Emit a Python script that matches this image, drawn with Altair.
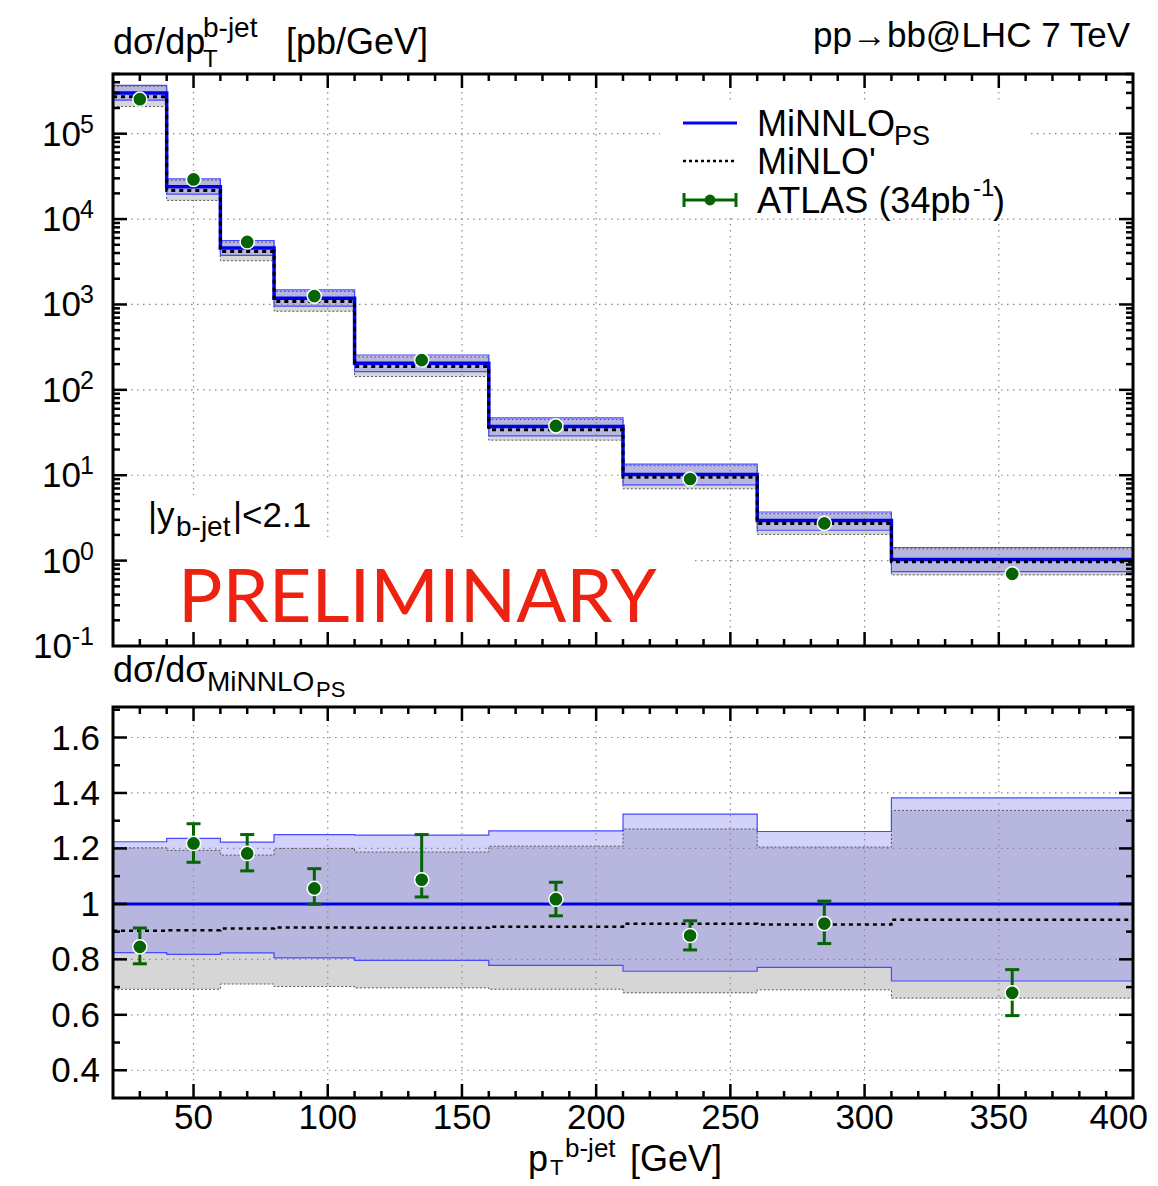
import altair as alt
import numpy as np
import pandas as pd

# ---------------- data ----------------
bin_edges = [20, 40, 60, 80, 110, 160, 210, 260, 310, 400]
minnlo_xsec = [3.0e5, 2.39e4, 4.57e3, 1.186e3, 205.0, 37.2, 10.2, 2.94, 1.03]
minnlo_ratio = [1.0, 1.0, 1.0, 1.0, 1.0, 1.0, 1.0, 1.0, 1.0]
minnlo_ratio_hi = [1.224, 1.236, 1.223, 1.250, 1.248, 1.263, 1.324, 1.261, 1.382]
minnlo_ratio_lo = [0.824, 0.818, 0.823, 0.805, 0.796, 0.778, 0.757, 0.771, 0.722]
minlo_ratio = [0.903, 0.905, 0.911, 0.915, 0.914, 0.918, 0.928, 0.926, 0.943]
minlo_ratio_hi = [1.202, 1.193, 1.176, 1.200, 1.187, 1.208, 1.270, 1.205, 1.337]
minlo_ratio_lo = [0.692, 0.692, 0.711, 0.702, 0.697, 0.692, 0.679, 0.690, 0.660]
atlas_pt = [30, 50, 70, 95, 135, 185, 235, 285, 355]
atlas_ratio = [0.845, 1.218, 1.182, 1.056, 1.087, 1.017, 0.886, 0.929, 0.679]
atlas_ratio_hi = [0.913, 1.289, 1.250, 1.127, 1.250, 1.078, 0.939, 1.010, 0.763]
atlas_ratio_lo = [0.784, 1.150, 1.119, 0.999, 1.025, 0.957, 0.834, 0.857, 0.597]
x_tick_labels = [50, 100, 150, 200, 250, 300, 350, 400]
ratio_tick_values = [0.4, 0.6, 0.8, 1.0, 1.2, 1.4, 1.6]
ratio_tick_labels = ["0.4", "0.6", "0.8", "1", "1.2", "1.4", "1.6"]
log_tick_exponents = [-1, 0, 1, 2, 3, 4, 5]

# ---------------- layout / style ----------------
FONT = "Liberation Sans"
LEFT, UP_TOP, W, UP_H = 113, 74, 1020, 572
LO_TOP, LO_H = 707, 391
GREEN = "#066406"
ONE = pd.DataFrame({"a": [0]})

xs = alt.Scale(domain=[20, 400], nice=False, zero=False)
ys_up = alt.Scale(type="log", domain=[0.1, 5e5], nice=False)
ys_lo = alt.Scale(domain=[0.3, 1.71], nice=False, zero=False)


def X(f):
    return alt.X(f + ":Q", scale=xs, axis=None)


def Y(f, s):
    return alt.Y(f + ":Q", scale=s, axis=None)


def step_frame(cols):
    d = {"x": bin_edges}
    for k, v in cols.items():
        v = list(v)
        d[k] = v + [v[-1]]
    return pd.DataFrame(d)


def T(text, px, py, size, top, align="left", color="black", font=FONT):
    return alt.Chart(ONE).mark_text(
        text=text, align=align, baseline="alphabetic", fontSize=size,
        font=font, color=color
    ).encode(x=alt.value(px - LEFT), y=alt.value(py - top))


def white_box(x0, x1, y0, y1, top):
    return alt.Chart(ONE).mark_rect(color="white", opacity=1).encode(
        x=alt.value(x0 - LEFT), x2=alt.value(x1 - LEFT),
        y=alt.value(y0 - top), y2=alt.value(y1 - top))


def model_layers(df, ys):
    base = alt.Chart(df)
    out = [
        base.mark_area(interpolate="step-after", color="#d6d6d6", opacity=1)
        .encode(x=X("x"), y=Y("mhi", ys), y2="mlo:Q"),
        base.mark_area(interpolate="step-after", color="#7474f2", opacity=0.32)
        .encode(x=X("x"), y=Y("hi", ys), y2="lo:Q"),
    ]
    for f in ("mhi", "mlo"):
        out.append(base.mark_line(interpolate="step-after", color="#555555",
                                  strokeWidth=1, strokeDash=[2, 2])
                   .encode(x=X("x"), y=Y(f, ys)))
    for f in ("hi", "lo"):
        out.append(base.mark_line(interpolate="step-after", color="#4848ff",
                                  strokeWidth=1.2)
                   .encode(x=X("x"), y=Y(f, ys)))
    return out


def central_layers(df, ys, lw):
    base = alt.Chart(df)
    return [
        base.mark_line(interpolate="step-after", color="#0000e6", strokeWidth=lw)
        .encode(x=X("x"), y=Y("c", ys)),
        base.mark_line(interpolate="step-after", color="black", strokeWidth=lw - 0.5,
                       strokeDash=[4, 4])
        .encode(x=X("x"), y=Y("m", ys)),
    ]


def grid_layers(ys, H, yvals):
    g = dict(color="#8a8a8a", strokeWidth=1.2, strokeDash=[1.5, 4.5])
    return [
        alt.Chart(pd.DataFrame({"v": [50, 100, 150, 200, 250, 300, 350]}))
        .mark_rule(**g).encode(x=X("v"), y=alt.value(0), y2=alt.value(H)),
        alt.Chart(pd.DataFrame({"v": yvals}))
        .mark_rule(**g).encode(y=Y("v", ys), x=alt.value(0), x2=alt.value(W)),
    ]


def tick_layers(ys, H, ymajor, yminor):
    t = dict(color="black", strokeWidth=2.5)
    out = []
    xmaj = [50, 100, 150, 200, 250, 300, 350]
    xmin = [v for v in range(30, 400, 10) if v % 50 != 0]
    for vals, ln in ((xmaj, 14), (xmin, 7)):
        d = alt.Chart(pd.DataFrame({"v": vals}))
        out.append(d.mark_rule(**t).encode(x=X("v"), y=alt.value(H), y2=alt.value(H - ln)))
        out.append(d.mark_rule(**t).encode(x=X("v"), y=alt.value(0), y2=alt.value(ln)))
    for vals, ln in ((ymajor, 14), (yminor, 7)):
        d = alt.Chart(pd.DataFrame({"v": vals}))
        out.append(d.mark_rule(**t).encode(y=Y("v", ys), x=alt.value(0), x2=alt.value(ln)))
        out.append(d.mark_rule(**t).encode(y=Y("v", ys), x=alt.value(W), x2=alt.value(W - ln)))
    out.append(alt.Chart(ONE).mark_rect(fill="transparent", stroke="black", strokeWidth=3)
               .encode(x=alt.value(0), x2=alt.value(W), y=alt.value(0), y2=alt.value(H)))
    return out


# ---------------- upper panel ----------------
xsec = np.array(minnlo_xsec)
up_df = step_frame({
    "c": xsec,
    "hi": xsec * np.array(minnlo_ratio_hi),
    "lo": xsec * np.array(minnlo_ratio_lo),
    "m": xsec * np.array(minlo_ratio),
    "mhi": xsec * np.array(minlo_ratio_hi),
    "mlo": xsec * np.array(minlo_ratio_lo),
})
up_pts = pd.DataFrame({"x": atlas_pt, "y": xsec * np.array(atlas_ratio)})

exp_df = pd.DataFrame({"v": [10.0 ** e for e in log_tick_exponents],
                       "e": [str(e) for e in log_tick_exponents],
                       "neg": [e < 0 for e in log_tick_exponents]})
lab = dict(baseline="alphabetic", font=FONT, color="black")
ylab_up = [
    alt.Chart(exp_df).transform_filter("!datum.neg").mark_text(
        text="10", align="right", fontSize=35, dy=12, **lab)
    .encode(y=Y("v", ys_up), x=alt.value(-32)),
    alt.Chart(exp_df).transform_filter("datum.neg").mark_text(
        text="10", align="right", fontSize=35, dy=12, **lab)
    .encode(y=Y("v", ys_up), x=alt.value(-41)),
    alt.Chart(exp_df).mark_text(align="right", fontSize=25, dy=-1, **lab)
    .encode(y=Y("v", ys_up), x=alt.value(-19), text="e:N"),
]

major_up = [10.0 ** e for e in range(0, 6)]
minor_up = [k * 10.0 ** e for e in range(-1, 6) for k in range(2, 10) if k * 10.0 ** e <= 5e5]

anchor_up = alt.Chart(ONE).mark_rect(opacity=0).encode(
    x=alt.value(8 - LEFT), x2=alt.value(1148 - LEFT),
    y=alt.value(8 - UP_TOP), y2=alt.value(0))

legend = [
    white_box(660, 1030, 104, 216, UP_TOP),
    alt.Chart(ONE).mark_rule(color="#0000ff", strokeWidth=3).encode(
        x=alt.value(683 - LEFT), x2=alt.value(737 - LEFT), y=alt.value(123 - UP_TOP)),
    alt.Chart(ONE).mark_rule(color="black", strokeWidth=2.5, strokeDash=[3, 3]).encode(
        x=alt.value(683 - LEFT), x2=alt.value(737 - LEFT), y=alt.value(161 - UP_TOP)),
    alt.Chart(ONE).mark_rule(color=GREEN, strokeWidth=3).encode(
        x=alt.value(683 - LEFT), x2=alt.value(737 - LEFT), y=alt.value(200 - UP_TOP)),
    alt.Chart(ONE).mark_rule(color=GREEN, strokeWidth=3).encode(
        x=alt.value(684 - LEFT), y=alt.value(193 - UP_TOP), y2=alt.value(207 - UP_TOP)),
    alt.Chart(ONE).mark_rule(color=GREEN, strokeWidth=3).encode(
        x=alt.value(736 - LEFT), y=alt.value(193 - UP_TOP), y2=alt.value(207 - UP_TOP)),
    alt.Chart(ONE).mark_circle(color=GREEN, opacity=1, size=120).encode(
        x=alt.value(710 - LEFT), y=alt.value(200 - UP_TOP)),
    T("MiNNLO", 757, 136, 36, UP_TOP), T("PS", 894, 145, 27, UP_TOP),
    T("MiNLO'", 757, 174, 36, UP_TOP),
    T("ATLAS (34pb", 757, 213, 36, UP_TOP), T("-1", 973, 196, 24, UP_TOP),
    T(")", 993, 213, 36, UP_TOP),
]

texts_up = [
    T("dσ/dp", 113, 54, 36, UP_TOP), T("T", 203, 67, 24, UP_TOP),
    T("b-jet", 203, 37, 28, UP_TOP), T("[pb/GeV]", 286, 54, 36, UP_TOP),
    T("pp→bb@LHC 7 TeV", 1130, 47, 35, UP_TOP, align="right"),
    T("|y", 148, 527, 35, UP_TOP), T("b-jet", 176, 536, 28, UP_TOP),
    T("|<2.1", 233, 527, 35, UP_TOP),
    T("PRELIMINARY", 178, 622, 74, UP_TOP, color="#ee2211", font="Lato"),
]

points_up = alt.Chart(up_pts).mark_circle(
    size=200, fill=GREEN, stroke="white", strokeWidth=1.5, opacity=1
).encode(x=X("x"), y=Y("y", ys_up))

upper = alt.layer(
    anchor_up,
    *model_layers(up_df, ys_up),
    *grid_layers(ys_up, UP_H, major_up),
    white_box(140, 318, 495, 537, UP_TOP),
    white_box(114, 693, 537, 645, UP_TOP),
    *central_layers(up_df, ys_up, 3.5),
    points_up,
    *legend,
    *texts_up,
    *ylab_up,
    *tick_layers(ys_up, UP_H, major_up, minor_up),
).properties(width=W, height=UP_H)

# ---------------- lower (ratio) panel ----------------
lo_df = step_frame({
    "c": minnlo_ratio, "hi": minnlo_ratio_hi, "lo": minnlo_ratio_lo,
    "m": minlo_ratio, "mhi": minlo_ratio_hi, "mlo": minlo_ratio_lo,
})
lo_pts = pd.DataFrame({"x": atlas_pt, "y": atlas_ratio,
                       "hi": atlas_ratio_hi, "lo": atlas_ratio_lo})
pb = alt.Chart(lo_pts)
atlas_lo = [
    pb.mark_rule(color=GREEN, strokeWidth=3).encode(x=X("x"), y=Y("lo", ys_lo), y2="hi:Q"),
    pb.mark_tick(orient="horizontal", size=14, thickness=3, color=GREEN, opacity=1)
    .encode(x=X("x"), y=Y("hi", ys_lo)),
    pb.mark_tick(orient="horizontal", size=14, thickness=3, color=GREEN, opacity=1)
    .encode(x=X("x"), y=Y("lo", ys_lo)),
    pb.mark_circle(size=200, fill=GREEN, stroke="white", strokeWidth=1.5, opacity=1)
    .encode(x=X("x"), y=Y("y", ys_lo)),
]

rlab_df = pd.DataFrame({"v": ratio_tick_values, "t": ratio_tick_labels})
xlab_df = pd.DataFrame({"v": x_tick_labels, "t": [str(v) for v in x_tick_labels],
                        "last": [v == x_tick_labels[-1] for v in x_tick_labels]})
labels_lo = [
    alt.Chart(rlab_df).mark_text(align="right", fontSize=35, dy=12, **lab)
    .encode(y=Y("v", ys_lo), x=alt.value(-13), text="t:N"),
    alt.Chart(xlab_df).transform_filter("!datum.last")
    .mark_text(align="center", fontSize=35, **lab)
    .encode(x=X("v"), y=alt.value(LO_H + 31), text="t:N"),
    alt.Chart(xlab_df).transform_filter("datum.last")
    .mark_text(align="right", fontSize=35, **lab)
    .encode(x=alt.value(1148 - LEFT), y=alt.value(LO_H + 31), text="t:N"),
]

texts_lo = [
    T("dσ/dσ", 113, 682, 36, LO_TOP), T("MiNNLO", 207, 691, 28, LO_TOP),
    T("PS", 316, 697, 22, LO_TOP),
    T("p", 528, 1171, 36, LO_TOP), T("T", 550, 1175, 22, LO_TOP),
    T("b-jet", 565, 1157, 26, LO_TOP), T("[GeV]", 630, 1171, 36, LO_TOP),
]

anchor_lo = alt.Chart(ONE).mark_rect(opacity=0).encode(
    x=alt.value(8 - LEFT), x2=alt.value(1148 - LEFT),
    y=alt.value(0), y2=alt.value(1176 - LO_TOP))

lower = alt.layer(
    anchor_lo,
    *model_layers(lo_df, ys_lo),
    *grid_layers(ys_lo, LO_H, ratio_tick_values),
    *central_layers(lo_df, ys_lo, 3),
    *atlas_lo,
    *labels_lo,
    *texts_lo,
    *tick_layers(ys_lo, LO_H, ratio_tick_values, [0.5, 0.7, 0.9, 1.1, 1.3, 1.5, 1.7]),
).properties(width=W, height=LO_H)

chart = alt.vconcat(upper, lower, spacing=LO_TOP - UP_TOP - UP_H, bounds="flush").properties(
    padding=0, background="white"
).configure_view(stroke=None)

chart.save("out.html", embed_options={"renderer": "svg", "actions": False})
